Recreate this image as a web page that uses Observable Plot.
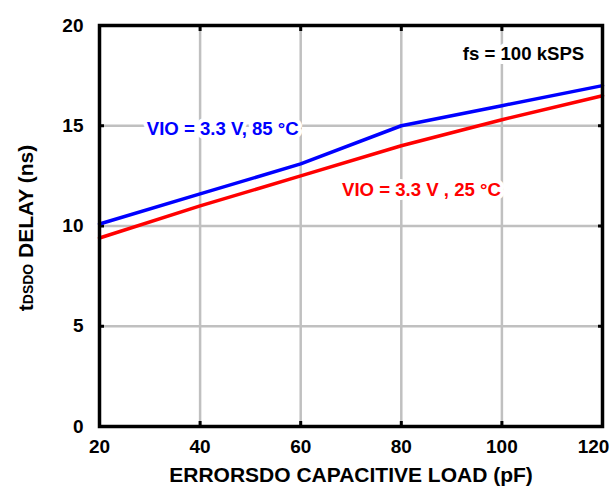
<!DOCTYPE html>
<html>
<head>
<meta charset="utf-8">
<script src="https://cdn.jsdelivr.net/npm/d3@7"></script>
<script src="https://cdn.jsdelivr.net/npm/@observablehq/plot@0.6"></script>
<style>
  html, body { margin: 0; padding: 0; background: #fff; }
  svg text { font-family: "Liberation Sans", Arial, sans-serif; font-weight: bold; }
</style>
</head>
<body>
<div id="chart"></div>
<script>
// Data
const loads = [20, 40, 60, 80, 100, 120];
const delay85 = [10.1, 11.6, 13.1, 15.0, 16.0, 17.0];
const delay25 = [9.4, 11.0, 12.5, 14.0, 15.3, 16.5];
const xTicks = [20, 40, 60, 80, 100];
const xLastTick = [120];
const yTicks = [0, 5, 10, 15, 20];
const gridX = [40, 60, 80, 100];
const gridY = [5, 10, 15];
const labelTexts = ["VIO = 3.3 V, 85 °C", "VIO = 3.3 V , 25 °C", "fs = 100 kSPS"];
const labelX = [44.5, 84, 104.3];
const labelY = [14.85, 11.77, 18.6];
const labelColors = ["#0000ff", "#ff0000", "#000000"];
const xTitle = "ERRORSDO CAPACITIVE LOAD (pF)";

const rows = [];
loads.forEach((x, i) => {
  rows.push({x, y: delay85[i], s: "85"});
  rows.push({x, y: delay25[i], s: "25"});
});
const labels = labelTexts.map((t, i) => ({t, x: labelX[i], y: labelY[i], c: labelColors[i]}));

const blank = () => "";
const plot = Plot.plot({
  width: 613,
  height: 491,
  marginLeft: 99,
  marginRight: 11,
  marginTop: 25,
  marginBottom: 65,
  x: {domain: [20, 120]},
  y: {domain: [0, 20]},
  marks: [
    Plot.gridX(gridX, {stroke: "#c0c0c0", strokeOpacity: 1, strokeWidth: 2.5}),
    Plot.gridY(gridY, {stroke: "#c0c0c0", strokeOpacity: 1, strokeWidth: 2.5}),
    Plot.axisX(gridX, {anchor: "bottom", tickSize: -5, strokeWidth: 3, tickFormat: blank, label: null}),
    Plot.axisX(gridX, {anchor: "top", tickSize: -5, strokeWidth: 3, tickFormat: blank, label: null}),
    Plot.axisY(gridY, {anchor: "left", tickSize: -5, strokeWidth: 3, tickFormat: blank, label: null}),
    Plot.axisY(gridY, {anchor: "right", tickSize: -5, strokeWidth: 3, tickFormat: blank, label: null}),
    Plot.axisX(xTicks, {anchor: "bottom", tickSize: 0, tickPadding: 13, fontSize: 19, label: null}),
    Plot.axisX(xLastTick, {anchor: "bottom", tickSize: 0, tickPadding: 13, fontSize: 19, label: null, dx: -9}),
    Plot.axisY(yTicks, {anchor: "left", tickSize: 0, tickPadding: 16, fontSize: 19, label: null}),
    Plot.text(labels, {x: "x", y: "y", text: "t", fill: "c", fontSize: 18.6, stroke: "white", strokeWidth: 8, paintOrder: "stroke"}),
    Plot.line(rows, {x: "x", y: "y", z: "s", stroke: d => d.s === "85" ? "#0000ff" : "#ff0000", strokeWidth: 3.5}),
    Plot.frame({stroke: "black", strokeWidth: 3.5}),
    Plot.text([xTitle], {frameAnchor: "bottom", dy: 55, fontSize: 21, fill: "black"})
  ]
});

// y-axis title with subscript
const svg = d3.select(plot);
const t = svg.append("text")
  .attr("transform", "translate(33,228) rotate(-90)")
  .attr("text-anchor", "middle")
  .attr("font-size", 21)
  .attr("fill", "black");
t.append("tspan").text("t");
t.append("tspan").attr("font-size", 14).text("DSDO");
t.append("tspan").text(" DELAY (ns)");

document.getElementById("chart").appendChild(plot);
</script>
</body>
</html>
